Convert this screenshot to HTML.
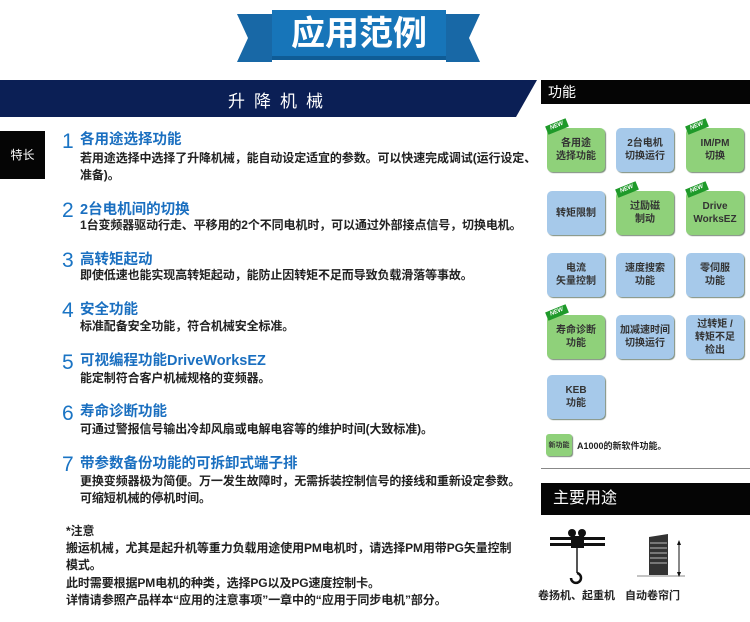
<!DOCTYPE html>
<html><head><meta charset="utf-8"><style>
*{margin:0;padding:0;box-sizing:border-box}
body{width:750px;height:622px;background:#fff;position:relative;overflow:hidden;font-family:"Liberation Sans","Noto Sans CJK SC",sans-serif;color:#222}
.a{position:absolute;white-space:nowrap}
.num{position:absolute;left:62px;font-size:21px;color:#1a74c4;font-family:"Liberation Sans",sans-serif}
.t{position:absolute;left:80px;font-size:14.5px;font-weight:bold;color:#1a6fc0}
.d{position:absolute;left:80px;font-size:12px;color:#222;font-weight:bold;letter-spacing:-0.1px}
.box{position:absolute;width:58px;height:44px;border-radius:5px;font-size:10px;font-weight:bold;text-align:center;display:flex;align-items:center;justify-content:center;line-height:13px;color:#333;box-shadow:1px 1px 1px #7a8a7a}
.g{background:#8fd17a}
.b{background:#a6c9ea}
.new{position:absolute;width:22px;height:9px;background:#1f9a2a;color:#fff;font-size:6px;font-style:italic;font-weight:bold;transform:rotate(-22deg);text-align:center;line-height:9px}
</style></head><body>
<svg class="a" style="left:0;top:0" width="750" height="130">
<polygon points="237,14 272,14 272,62 237,62 248,38" fill="#1868a6"/>
<polygon points="480,14 446,14 446,62 480,62 469,38" fill="#1868a6"/>
<rect x="272" y="10" width="174" height="50" fill="#1775b9"/>
<rect x="272" y="56" width="174" height="4" fill="#0f5c96"/>
<polygon points="0,80 537,80 516,117 0,117" fill="#0b1f55"/>
<rect x="541" y="80" width="209" height="24" fill="#050505"/>
</svg>
<div class="a" style="left:272px;top:12px;width:174px;text-align:center;color:#fff;font-size:34px;font-weight:bold;line-height:44px">应用范例</div>
<div class="a" style="left:0;top:87px;width:560px;text-align:center;color:#fff;font-size:17px;letter-spacing:9px">升降机械</div>
<div class="a" style="left:548px;top:82px;color:#fff;font-size:14px">功能</div>
<div class="a" style="left:0;top:131px;width:45px;height:48px;background:#050505;color:#fff;font-size:12px;text-align:center;line-height:48px">特长</div>

<div class="num" style="top:130px">1</div><div class="t" style="top:128px">各用途选择功能</div>
<div class="d" style="top:149px">若用途选择中选择了升降机械，能自动设定适宜的参数。可以快速完成调试(运行设定、</div>
<div class="d" style="top:166px">准备)。</div>
<div class="num" style="top:199px">2</div><div class="t" style="top:198px">2台电机间的切换</div>
<div class="d" style="top:216px">1台变频器驱动行走、平移用的2个不同电机时，可以通过外部接点信号，切换电机。</div>
<div class="num" style="top:249px">3</div><div class="t" style="top:248px">高转矩起动</div>
<div class="d" style="top:266px">即使低速也能实现高转矩起动，能防止因转矩不足而导致负载滑落等事故。</div>
<div class="num" style="top:299px">4</div><div class="t" style="top:298px">安全功能</div>
<div class="d" style="top:317px">标准配备安全功能，符合机械安全标准。</div>
<div class="num" style="top:351px">5</div><div class="t" style="top:349px">可视编程功能DriveWorksEZ</div>
<div class="d" style="top:369px">能定制符合客户机械规格的变频器。</div>
<div class="num" style="top:402px">6</div><div class="t" style="top:400px">寿命诊断功能</div>
<div class="d" style="top:420px">可通过警报信号输出冷却风扇或电解电容等的维护时间(大致标准)。</div>
<div class="num" style="top:453px">7</div><div class="t" style="top:452px">带参数备份功能的可拆卸式端子排</div>
<div class="d" style="top:472px">更换变频器极为简便。万一发生故障时，无需拆装控制信号的接线和重新设定参数。</div>
<div class="d" style="top:489px">可缩短机械的停机时间。</div>
<div class="d" style="left:66px;top:522px">*注意</div>
<div class="d" style="left:66px;top:539px">搬运机械，尤其是起升机等重力负载用途使用PM电机时，请选择PM用带PG矢量控制</div>
<div class="d" style="left:66px;top:556px">模式。</div>
<div class="d" style="left:66px;top:574px">此时需要根据PM电机的种类，选择PG以及PG速度控制卡。</div>
<div class="d" style="left:66px;top:591px">详情请参照产品样本“应用的注意事项”一章中的“应用于同步电机”部分。</div>

<div class="box g" style="left:547px;top:128px">各用途<br>选择功能</div>
<div class="box b" style="left:616px;top:128px">2台电机<br>切换运行</div>
<div class="box g" style="left:686px;top:128px">IM/PM<br>切换</div>
<div class="box b" style="left:547px;top:191px">转矩限制</div>
<div class="box g" style="left:616px;top:191px">过励磁<br>制动</div>
<div class="box g" style="left:686px;top:191px">Drive<br>WorksEZ</div>
<div class="box b" style="left:547px;top:253px">电流<br>矢量控制</div>
<div class="box b" style="left:616px;top:253px">速度搜索<br>功能</div>
<div class="box b" style="left:686px;top:253px">零伺服<br>功能</div>
<div class="box g" style="left:547px;top:315px">寿命诊断<br>功能</div>
<div class="box b" style="left:616px;top:315px">加减速时间<br>切换运行</div>
<div class="box b" style="left:686px;top:315px">过转矩 /<br>转矩不足<br>检出</div>
<div class="box b" style="left:547px;top:375px">KEB<br>功能</div>
<div class="new" style="left:546px;top:122px">NEW</div>
<div class="new" style="left:686px;top:122px">NEW</div>
<div class="new" style="left:616px;top:185px">NEW</div>
<div class="new" style="left:686px;top:185px">NEW</div>
<div class="new" style="left:546px;top:308px">NEW</div>
<div class="box g" style="left:546px;top:434px;width:26px;height:22px;font-size:7px;border-radius:3px">新功能</div>
<div class="a" style="left:577px;top:439px;font-size:9px;font-weight:bold">A1000的新软件功能。</div>
<div class="a" style="left:541px;top:468px;width:209px;height:1px;background:#888"></div>
<div class="a" style="left:541px;top:483px;width:209px;height:32px;background:#050505;color:#fff;font-size:16px;line-height:32px;padding-left:12px">主要用途</div>
<svg class="a" style="left:540px;top:525px" width="210" height="65">
<rect x="10" y="12" width="55" height="3" fill="#111"/><rect x="10" y="18" width="55" height="3" fill="#111"/>
<circle cx="32" cy="8" r="4" fill="#111"/><circle cx="42" cy="8" r="4" fill="#111"/>
<rect x="31" y="11" width="13" height="12" fill="#111"/>
<line x1="37" y1="23" x2="37" y2="48" stroke="#555" stroke-width="2"/>
<path d="M37 48 a5 5 0 1 1 -6 5" fill="none" stroke="#111" stroke-width="2.5"/>
<polygon points="109,12 128,9 128,50 109,50" fill="#333"/>
<g stroke="#bbb" stroke-width="1"><line x1="110" y1="18" x2="127" y2="18"/><line x1="110" y1="23" x2="127" y2="23"/><line x1="110" y1="28" x2="127" y2="28"/><line x1="110" y1="33" x2="127" y2="33"/><line x1="110" y1="38" x2="127" y2="38"/></g>
<line x1="97" y1="51" x2="145" y2="51" stroke="#888"/>
<line x1="139" y1="18" x2="139" y2="50" stroke="#111"/>
<polygon points="139,15 137,20 141,20" fill="#111"/><polygon points="139,52 137,47 141,47" fill="#111"/>
</svg>
<div class="a" style="left:538px;top:587px;font-size:11px;font-weight:bold">卷扬机、起重机</div>
<div class="a" style="left:625px;top:587px;font-size:11px;font-weight:bold">自动卷帘门</div>
</body></html>
